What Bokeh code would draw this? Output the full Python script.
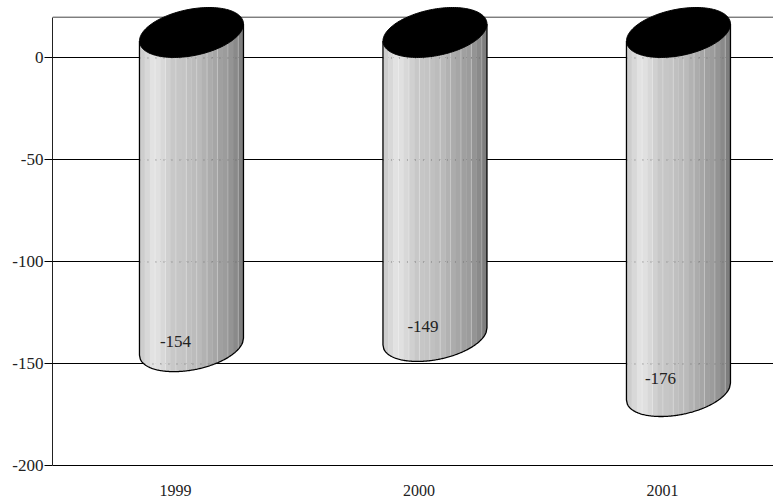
import numpy as np
from bokeh.plotting import figure
from bokeh.models import Range1d, FixedTicker, Span, ColumnDataSource
from bokeh.core.properties import value
from bokeh.embed import file_html
from bokeh.resources import INLINE

years = ["1999", "2000", "2001"]
values = [-154, -149, -176]
value_labels = ["-154", "-149", "-176"]
y_ticks = [0, -50, -100, -150, -200]
y_tick_labels = ["0", "-50", "-100", "-150", "-200"]
stripe_grays = [205, 216, 226, 224, 216, 208, 200, 198, 196, 192, 188, 186, 178, 172, 166, 160, 156, 148, 138, 126]
label_dx = [0, 4, -2]
label_dy = [-31, -35, -39]

FONT = "Liberation Serif"
PX_X, PX_Y = 243.5, 2.04     # pixels per data unit
A, B, SLOPE = 52.0, 23.5, 0.163  # cap half width, half height, tilt (pixels)
CENTER_UP = 25.5             # cap centre above the value (pixels)
DEPTH_X = 16.0               # cylinder centre right of its category (pixels)

p = figure(width=773, height=500, output_backend="svg", toolbar_location=None,
           x_range=Range1d(-0.505, 2.456), y_range=Range1d(-200.25, 25.24),
           min_border_left=52, min_border_right=0, min_border_top=6, min_border_bottom=34)
p.outline_line_color = None
p.background_fill_color = "white"

# axes
p.xaxis.ticker = FixedTicker(ticks=[0, 1, 2])
p.xaxis.major_label_overrides = {i: y for i, y in enumerate(years)}
p.xaxis.axis_line_color = None
p.xaxis.major_tick_line_color = None
p.xaxis.minor_tick_line_color = None
p.xaxis.major_label_standoff = 12
p.xaxis.major_label_text_font = FONT
p.xaxis.major_label_text_font_size = "16px"
p.xaxis.major_label_text_color = "#222222"

p.yaxis.ticker = FixedTicker(ticks=y_ticks)
p.yaxis.major_label_overrides = dict(zip(y_ticks, y_tick_labels))
p.yaxis.bounds = (-200, 20)
p.yaxis.axis_line_color = "#222222"
p.yaxis.major_tick_line_color = "#000000"
p.yaxis.major_tick_out = 8
p.yaxis.major_tick_in = 0
p.yaxis.minor_tick_line_color = None
p.yaxis.major_label_standoff = 1
p.yaxis.major_label_text_font = FONT
p.yaxis.major_label_text_font_size = "17px"
p.yaxis.major_label_text_color = "#222222"

p.xgrid.visible = False
p.ygrid.ticker = FixedTicker(ticks=y_ticks)
p.ygrid.grid_line_color = "#000000"
p.ygrid.grid_line_width = 1
p.ygrid.level = "underlay"
p.add_layout(Span(location=20, dimension="width", line_color="#444444", line_width=1, level="underlay"))


def lower(dx):
    return SLOPE * dx - B * np.sqrt(np.clip(1 - (dx / A) ** 2, 0, 1))


n = len(stripe_grays)
edges = np.linspace(-A, A, n + 1)
for i, val in enumerate(values):
    mid = i + DEPTH_X / PX_X
    base = val + CENTER_UP / PX_Y
    top = 0 + CENTER_UP / PX_Y
    xs, ys, cols = [], [], []
    for k, g in enumerate(stripe_grays):
        dx = np.linspace(edges[k], min(edges[k + 1] + 0.3, A), 8)
        poly_x = np.concatenate([[dx[0]], dx, [dx[-1]]])
        poly_y = np.concatenate([[top + SLOPE * dx[0] / PX_Y], base + lower(dx) / PX_Y,
                                 [top + SLOPE * dx[-1] / PX_Y]])
        xs.append(mid + poly_x / PX_X)
        ys.append(poly_y)
        cols.append(f"#{g:02x}{g:02x}{g:02x}")
    p.patches(xs, ys, fill_color=cols, line_color=None)

    # faint lighter separators between some stripes
    sep_x = [[mid + e / PX_X, mid + e / PX_X] for e in edges[3:-1:2]]
    sep_y = [[top + SLOPE * e / PX_Y, base + lower(e) / PX_Y] for e in edges[3:-1:2]]
    p.multi_line(sep_x, sep_y, line_color="#ffffff", line_alpha=0.28, line_width=1)

    # dotted gridlines seen through the body, only where the body reaches
    grid_dx = np.linspace(-A, A, 209)
    for t in y_ticks:
        inside = grid_dx[base + lower(grid_dx) / PX_Y < t]
        if inside.size:
            p.line([mid + inside[0] / PX_X, mid + inside[-1] / PX_X], [t, t], line_color="#666666",
                   line_width=1, line_dash="1 7", line_alpha=0.8)

    # outline: left side, lower curve, right side
    dx = np.linspace(-A, A, 120)
    ox = np.concatenate([[-A], dx, [A]])
    oy = np.concatenate([[top - SLOPE * A / PX_Y], base + lower(dx) / PX_Y, [top + SLOPE * A / PX_Y]])
    p.line(mid + ox / PX_X, oy, line_color="#000000", line_width=1.3)

    # black cap
    t = np.linspace(0, 2 * np.pi, 160)
    cx = A * np.cos(t)
    cy = SLOPE * cx + B * np.sin(t)
    p.patch(mid + cx / PX_X, top + cy / PX_Y, fill_color="#000000", line_color="#000000", line_width=1)

src = ColumnDataSource(dict(x=list(range(3)), y=values, t=value_labels, dx=label_dx, dy=label_dy))
p.text("x", "y", text="t", x_offset="dx", y_offset="dy", source=src, text_font=value(FONT),
       text_font_size="17px", text_color="#222222", text_align="center", text_baseline="middle")

open("out.html", "w").write(file_html(p, INLINE))
